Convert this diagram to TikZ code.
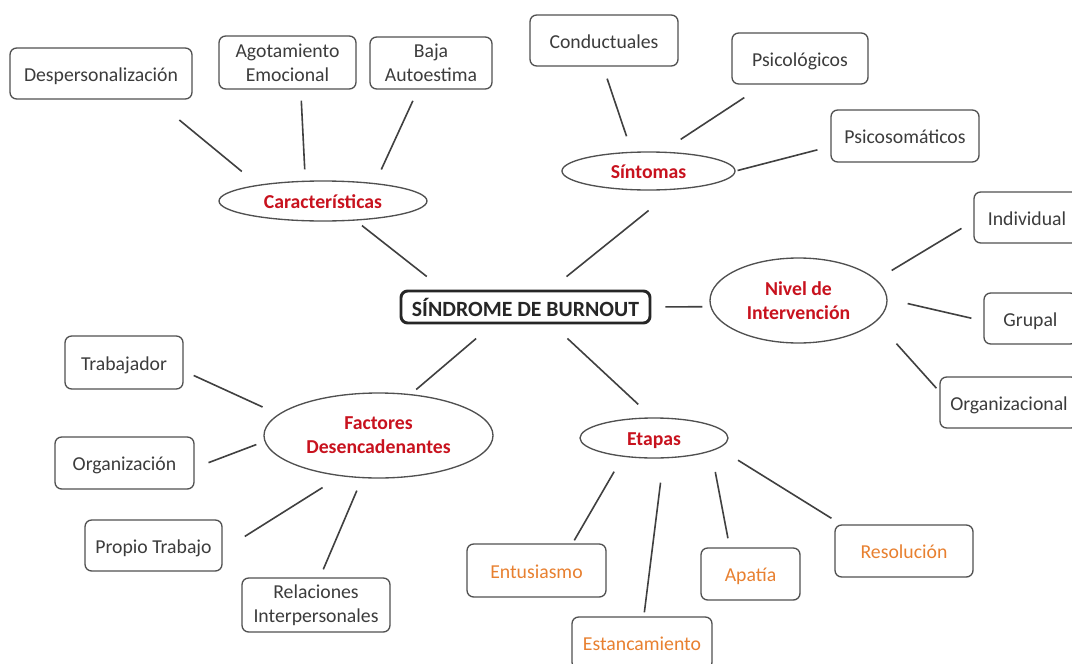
\documentclass[tikz,border=0pt]{standalone}
\usepackage{fontspec}
\setmainfont{Carlito}
\usetikzlibrary{shapes.geometric}
\definecolor{txtc}{RGB}{60,60,60}
\definecolor{boxc}{RGB}{80,80,80}
\definecolor{linec}{RGB}{64,64,64}
\definecolor{redc}{RGB}{200,18,30}
\definecolor{orangec}{RGB}{232,128,48}
\newcommand\lblfont{\fontsize{14.8}{18}\selectfont}
\begin{document}
\begin{tikzpicture}[x=0.75pt,y=-0.75pt,
  sz/.style 2 args={minimum width=#1*0.75pt,minimum height=#2*0.75pt},
  one/.style={text height=1.35em,text depth=0.2em},
  box/.style={draw=boxc,line width=1pt,rounded corners=5pt,fill=white,text=txtc,align=center,inner sep=0pt,font=\lblfont},
  obox/.style={box,text=orangec},
  oval/.style={draw=boxc,ellipse,line width=1pt,fill=white,inner sep=0pt,text=redc,align=center,font=\lblfont\bfseries},
  mainbox/.style={draw=black!85,line width=2.2pt,rounded corners=5pt,fill=white,text=black!85,inner sep=0pt,font=\fontsize{16.3}{19}\selectfont\bfseries},
  link/.style={draw=linec,line width=1.2pt}]
\clip (0,0) rectangle (1072,664);
\fill[white] (0,0) rectangle (1072,664);
% nodes
\node[mainbox,sz={249}{32}] (burnout) at (525.5,307) {SÍNDROME DE BURNOUT};
\node[oval,one,sz={208}{40}] (caract) at (323,201) {Características};
\node[oval,one,sz={173}{38}] (sint) at (648.5,171) {Síntomas};
\node[oval,sz={177}{85}] (nivel) at (798.5,300.5) {Nivel de\\Intervención};
\node[oval,sz={229}{85}] (factores) at (378.5,435.5) {Factores\\Desencadenantes};
\node[oval,one,sz={148}{40}] (etapas) at (654,438) {Etapas};
\node[box,one,sz={182}{51}] (desp) at (101,73.5) {Despersonalización};
\node[box,sz={137}{53}] (agot) at (287.5,62.5) {Agotamiento\\Emocional};
\node[box,sz={122}{52}] (baja) at (431,63) {Baja\\Autoestima};
\node[box,one,sz={148}{51}] (cond) at (604,40.5) {Conductuales};
\node[box,one,sz={136}{51}] (psicol) at (800,58.5) {Psicológicos};
\node[box,one,sz={148}{52}] (psicos) at (905,136) {Psicosomáticos};
\node[box,one,sz={106}{51}] (indiv) at (1027,217.5) {Individual};
\node[box,one,sz={93}{51}] (grupal) at (1030.5,318.5) {Grupal};
\node[box,one,sz={138}{51}] (org) at (1009,402.5) {Organizacional};
\node[box,one,sz={118}{53}] (trab) at (124,362.5) {Trabajador};
\node[box,one,sz={139}{52}] (orgz) at (124.5,463) {Organización};
\node[box,one,sz={137}{51}] (propio) at (153.5,545.5) {Propio Trabajo};
\node[box,sz={148}{54}] (rel) at (316,605) {Relaciones\\Interpersonales};
\node[obox,one,sz={139}{53}] (entu) at (536.5,570.5) {Entusiasmo};
\node[obox,one,sz={140}{52}] (estan) at (642,643) {Estancamiento};
\node[obox,one,sz={99}{52}] (apat) at (750.5,574) {Apatía};
\node[obox,one,sz={138}{52}] (resol) at (904,551) {Resolución};
% connectors
\draw[link,shorten <=24pt,shorten >=15.75pt] (desp.-26) -- (caract.166);
\draw[link,shorten <=8.3pt,shorten >=8.5pt] (agot.-64) -- (caract.131.5);
\draw[link,shorten <=9.2pt,shorten >=11.2pt] (baja.-116) -- (caract.19.6);
\draw[link,shorten <=6pt,shorten >=15.8pt] (caract.-31.9) -- (burnout.168.8);
\draw[link,shorten <=9.5pt,shorten >=12.2pt] (cond.-92.5) -- (sint.131);
\draw[link,shorten <=17.7pt,shorten >=16.7pt] (psicol.-144.2) -- (sint.55.2);
\draw[link,shorten <=10pt,shorten >=1.5pt] (psicos.-172.6) -- (sint.0.3);
\draw[link,shorten <=24.8pt,shorten >=15.5pt] (sint.-36) -- (burnout.35.5);
\draw[link,shorten <=10.5pt,shorten >=6pt] (burnout.0) -- (nivel.184.2);
\draw[link,shorten <=13.3pt,shorten >=10.4pt] (nivel.15.8) -- (indiv.-176.2);
\draw[link,shorten <=15.4pt,shorten >=9.2pt] (nivel.1.4) -- (grupal.-177.2);
\draw[link,shorten <=22.4pt,shorten >=3.3pt] (nivel.-15.9) -- (org.171.5);
\draw[link,shorten <=16.3pt,shorten >=5.3pt] (burnout.-152.6) -- (factores.52.7);
\draw[link,shorten <=15.4pt,shorten >=14.3pt] (burnout.-33.3) -- (etapas.95.7);
\draw[link,shorten <=8.3pt,shorten >=13pt] (trab.-8.6) -- (factores.168.7);
\draw[link,shorten <=11.1pt,shorten >=6.5pt] (orgz.-4) -- (factores.183.9);
\draw[link,shorten <=19.6pt,shorten >=15.9pt] (propio.-4.7) -- (factores.-133.9);
\draw[link,shorten <=10.1pt,shorten >=6.5pt] (factores.-111) -- (rel.82.4);
\draw[link,shorten <=12.9pt,shorten >=2.6pt] (etapas.-149.8) -- (entu.37.4);
\draw[link,shorten <=18.3pt,shorten >=3pt] (etapas.-65.8) -- (estan.86.7);
\draw[link,shorten <=15.8pt,shorten >=6.9pt] (etapas.-13.9) -- (apat.128.3);
\draw[link,shorten <=17pt,shorten >=8.6pt] (etapas.-9.1) -- (resol.157);
\end{tikzpicture}
\end{document}
